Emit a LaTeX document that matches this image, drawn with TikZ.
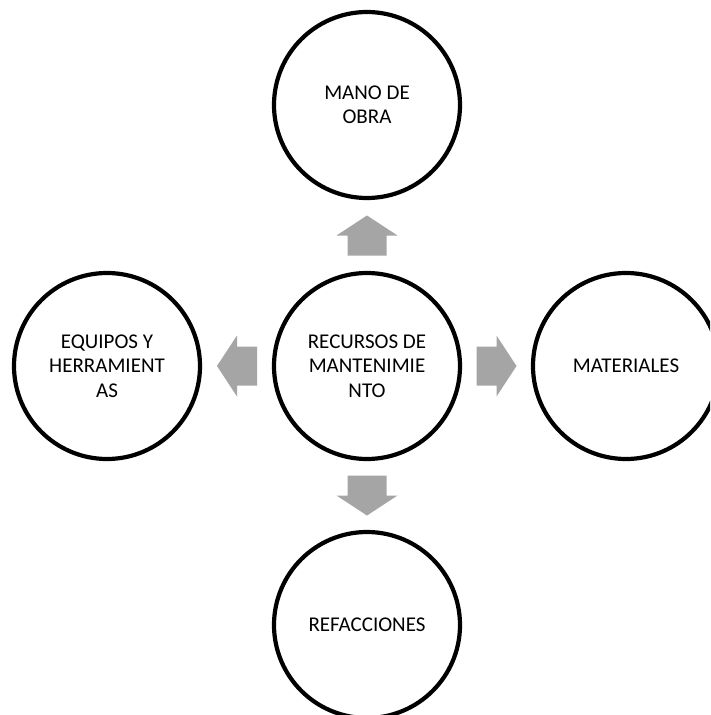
\documentclass[tikz,border=0pt]{standalone}
\usepackage{fontspec}
\setmainfont{Carlito}
\usetikzlibrary{calc}
\begin{document}
\begin{tikzpicture}[x=1pt,y=-1pt,
  resource/.style={circle, draw=black, line width=4.2pt, fill=white,
    minimum size=186pt, inner sep=0pt, align=center,
    font=\fontsize{21}{24.5}\selectfont},
  blockarrow/.pic={
    \fill[arrowgray] (-20,-19.5) -- (0,-19.5) -- (0,-30.5) -- (20,0)
      -- (0,30.5) -- (0,19.5) -- (-20,19.5) -- cycle;
  }]
  \definecolor{arrowgray}{HTML}{A5A5A5}
  \useasboundingbox (0,0) rectangle (710,715);
  \fill[white] (0,0) rectangle (710,715);
  \clip (0,0) rectangle (710,715);

  % resource circles
  \node[resource] (center) at (367,366) {RECURSOS DE\\MANTENIMIE\\NTO};
  \node[resource] (labor)  at (367,105) {MANO DE\\OBRA};
  \node[resource] (tools)  at (107,366) {EQUIPOS Y\\HERRAMIENT\\AS};
  \node[resource] (mats)   at (626,366) {MATERIALES};
  \node[resource] (parts)  at (367,625) {REFACCIONES};

  % block arrows from the centre outwards
  \pic[rotate=90]  at ($(center)!0.5!(labor)$) {blockarrow};
  \pic[rotate=180] at ($(center)!0.5!(tools)$) {blockarrow};
  \pic[rotate=0]   at ($(center)!0.5!(mats)$)  {blockarrow};
  \pic[rotate=270] at ($(center)!0.5!(parts)$) {blockarrow};
\end{tikzpicture}
\end{document}
